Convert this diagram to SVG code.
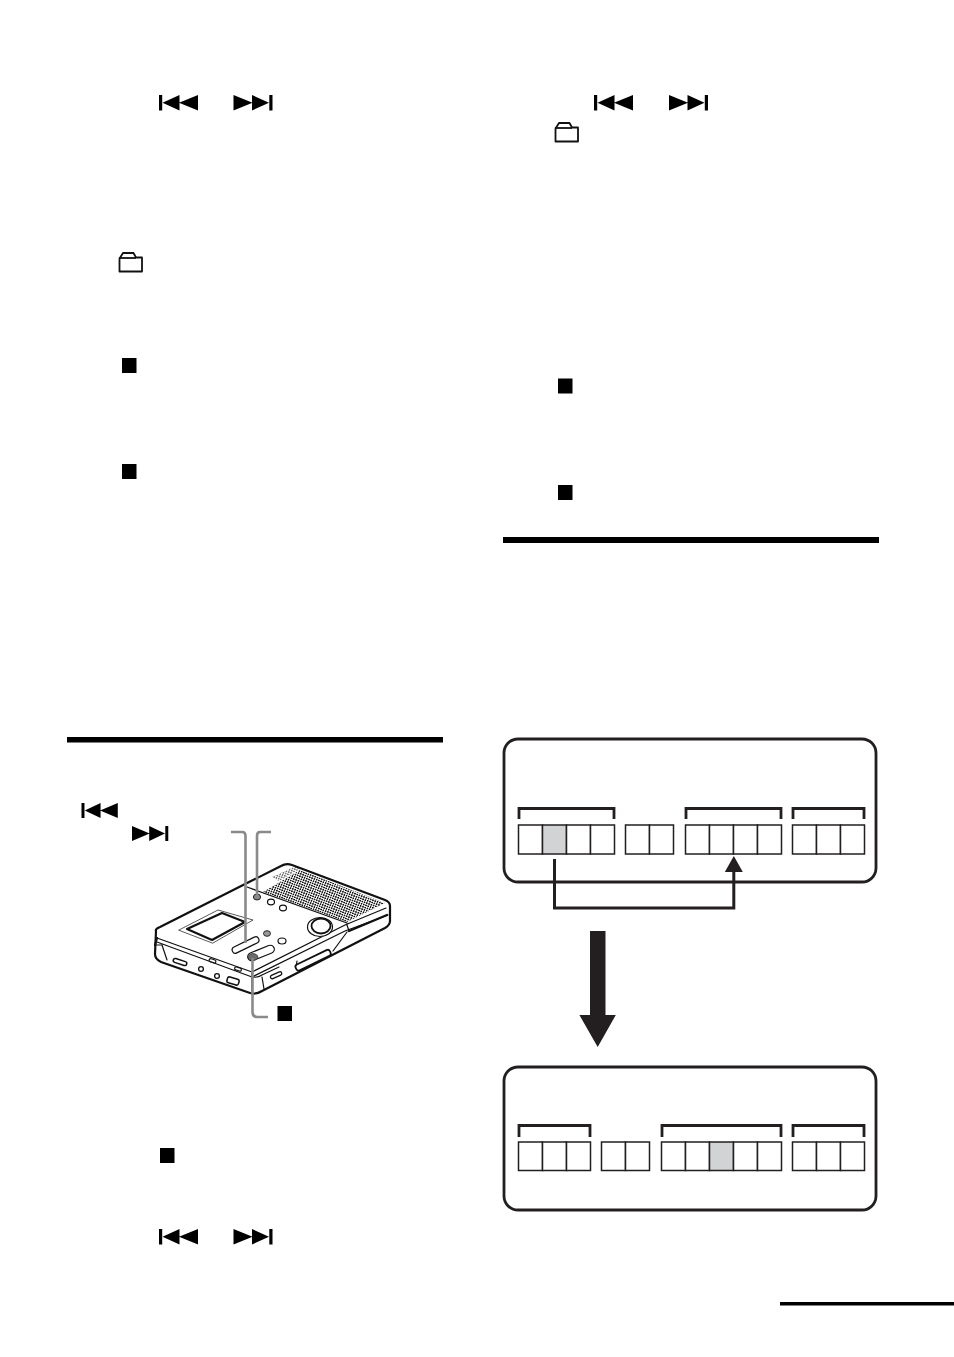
<svg xmlns="http://www.w3.org/2000/svg" width="954" height="1357" viewBox="0 0 954 1357">
<style>
.k{fill:#000}
.box{fill:#fff;stroke:#231f20;stroke-width:2.8}
.cell{fill:#fff;stroke:#231f20;stroke-width:1.5}
.gray{fill:#d1d3d4;stroke:#231f20;stroke-width:1.5}
.br{fill:none;stroke:#231f20;stroke-width:2.800}
.lead{fill:none;stroke:#8a8a8a;stroke-width:2.6}
.fold{fill:#fff;stroke:#111;stroke-width:1.8;stroke-linejoin:round}
.d{fill:none;stroke:#111;stroke-width:1.2;stroke-linejoin:round;stroke-linecap:round}
.dt{fill:none;stroke:#111;stroke-width:2.200;stroke-linejoin:round;stroke-linecap:round}
.dw{fill:#fff;stroke:#111;stroke-width:1.2}
</style>
<defs>
<symbol id="prev" overflow="visible"><path class="k" d="M0 0h3.200v15.500H0zM3.500 7.750 20.500 0V15.500zM20 7.750 39 0V15.500z"/></symbol>
<symbol id="next" overflow="visible"><path class="k" d="M39 0h-3.200v15.500h3.200zM35.500 7.750 18.500 0V15.500zM19 7.750 0 0V15.500z"/></symbol>
<symbol id="folder" overflow="visible"><path class="fold" d="M1 19.500V6.500Q1 5.500 2 5L4.500 1H15L17.500 5.500H23.500V19.500Z"/><path class="fold" d="M1 6H17.500" fill="none"/></symbol>
<pattern id="grille" width="2.400" height="2.400" patternUnits="userSpaceOnUse" patternTransform="rotate(20)"><rect width="1.600" height="1.600" fill="#111"/></pattern>
</defs>
<rect width="954" height="1357" fill="#fff"/>

<g id="rules">
<rect class="k" x="67" y="737" width="376" height="5.500"/>
<rect class="k" x="503" y="537" width="376" height="6"/>
<rect class="k" x="780" y="1302" width="174" height="3.500"/>
</g>

<g id="icons">
<use href="#prev" x="159" y="95"/><use href="#next" x="233.500" y="95"/>
<use href="#prev" x="594" y="95"/><use href="#next" x="669" y="95"/>
<use href="#folder" x="554.500" y="122"/><use href="#folder" x="118.500" y="252"/>
<rect class="k" x="122" y="358" width="14.500" height="15"/>
<rect class="k" x="122" y="464" width="14.500" height="15"/>
<rect class="k" x="558" y="378.500" width="14.500" height="15"/>
<rect class="k" x="558" y="485" width="14.500" height="15"/>
<rect class="k" x="160" y="1148" width="14.500" height="15"/>
<use href="#prev" x="159" y="1229"/><use href="#next" x="233.500" y="1229"/>
<use href="#prev" transform="translate(81.500 803) scale(.93 .97)"/>
<use href="#next" transform="translate(132 826) scale(.93 .97)"/>
<rect class="k" x="277.500" y="1006" width="14.500" height="15"/>
</g>

<g id="device">
<path class="dt" style="fill:#fff" d="M156 931Q155 929 160 927L281 866Q286 863 292 865L385 900Q390 902 390 906V921Q390 925 385 928L262 991Q256 995 250 993L161 962Q155 959 155 954Z"/>
<path class="d" d="M157 938 252 972M157 942 252 977M155 945H162L167 960M252 972 345 925 386 908M252 977 345 931 388 915M252 972V992M252 977Q258 978 262 975L279 967M262 977 264 989M297 961 296 968M347 925 349 931M333 951 347 932M247 887 347 923"/>
<path class="dt" d="M349 931 387 915M155 945 157 938"/>
<path d="M263 892 300 870 385 903 347 922Z" fill="url(#grille)"/>
<path d="M272 877 296 866 300 869 279 881Z" fill="url(#grille)" opacity=".6"/>
<path class="d" style="stroke-width:.7" d="M179 930 218 910 253 920 213 943Z"/>
<path class="dt" d="M187 929 222 913 245 922 212 940Z"/>
<rect class="dw" x="231" y="942" width="29" height="6.500" rx="3.200" transform="rotate(-26 245 945)"/>
<rect class="dw" x="247" y="949" width="28" height="8" rx="4" transform="rotate(-22 261 953)"/>
<ellipse cx="253" cy="957" rx="4.800" ry="3.400" fill="#6d6d6d" stroke="#333" stroke-width=".8"/>
<ellipse cx="257" cy="897" rx="3.600" ry="3" fill="#8a8a8a" stroke="#222"/>
<ellipse class="dw" cx="271" cy="902" rx="3.500" ry="2.800"/>
<ellipse class="dw" cx="283" cy="908" rx="3.500" ry="2.800"/>
<ellipse cx="267" cy="933.500" rx="3.500" ry="2.800" fill="#999" stroke="#222"/>
<ellipse class="dw" cx="282" cy="941" rx="4" ry="3"/>
<ellipse class="dw" cx="320" cy="927" rx="12.500" ry="9.500"/>
<ellipse class="dw" cx="321" cy="926" rx="9.500" ry="7.500" style="stroke-width:1.800"/>
<rect class="dw" x="173" y="960" width="14" height="4" rx="2" transform="rotate(18 180 962)" style="stroke-width:1.500"/>
<rect class="dw" x="209" y="959.500" width="7" height="3" rx="1.500" transform="rotate(18 213 961)"/>
<rect class="dw" x="234.500" y="967.500" width="7" height="3" rx="1.500" transform="rotate(18 238 969)"/>
<circle class="dw" cx="201" cy="969" r="2.400" style="stroke-width:1.300"/>
<circle class="dw" cx="217" cy="976" r="2.400" style="stroke-width:1.300"/>
<rect class="dw" x="227" y="978" width="12" height="6" rx="2" transform="rotate(16 233 981)" style="stroke-width:1.500"/>
<rect class="dw" x="270" y="973.500" width="12" height="3.500" rx="1.700" transform="rotate(-24 276 975)" style="stroke-width:1.300"/>
<rect class="dw" x="294" y="957" width="38" height="6.500" rx="2.500" transform="rotate(-26 313 960)" style="stroke-width:1.800"/>
</g>

<g id="leaders">
<path class="lead" d="M231 832H242Q245.500 832 245.500 836V943"/>
<path class="lead" d="M271 832H260Q257 832 257 836V895"/>
<path class="lead" d="M252.500 958V1012Q252.500 1017 257 1017H268"/>
</g>

<g id="panel-before">
<rect class="box" x="504" y="739" width="372" height="143" rx="14"/>
<path class="br" d="M519 819V808.500H614V819M686 819V808.500H781V819M793 819V808.500H864V819"/>
<g id="cells-before">
<rect class="cell" x="518.500" y="825" width="24" height="29"/>
<rect class="gray" x="542.500" y="825" width="24" height="29"/>
<rect class="cell" x="566.500" y="825" width="24" height="29"/>
<rect class="cell" x="590.500" y="825" width="24" height="29"/>
<rect class="cell" x="625.500" y="825" width="24" height="29"/>
<rect class="cell" x="649.500" y="825" width="24" height="29"/>
<rect class="cell" x="685.500" y="825" width="24" height="29"/>
<rect class="cell" x="709.500" y="825" width="24" height="29"/>
<rect class="cell" x="733.500" y="825" width="24" height="29"/>
<rect class="cell" x="757.500" y="825" width="24" height="29"/>
<rect class="cell" x="792.500" y="825" width="24" height="29"/>
<rect class="cell" x="816.500" y="825" width="24" height="29"/>
<rect class="cell" x="840.500" y="825" width="24" height="29"/>
</g>
</g>

<g id="connectors">
<path d="M554.500 859V908H733.800V870" fill="none" stroke="#231f20" stroke-width="3"/>
<path d="M733.800 856 742.800 872H724.800Z" fill="#231f20"/>
<path d="M590 931H605.500V1015H615.800L597.700 1047 579.400 1015H590Z" fill="#231f20"/>
</g>

<g id="panel-after">
<rect class="box" x="504" y="1067" width="372" height="143" rx="14"/>
<path class="br" d="M519 1137V1125.500H590V1137M662 1137V1125.500H781V1137M793 1137V1125.500H864V1137"/>
<g id="cells-after">
<rect class="cell" x="518.500" y="1142" width="24" height="28.500"/>
<rect class="cell" x="542.500" y="1142" width="24" height="28.500"/>
<rect class="cell" x="566.500" y="1142" width="24" height="28.500"/>
<rect class="cell" x="601.500" y="1142" width="24" height="28.500"/>
<rect class="cell" x="625.500" y="1142" width="24" height="28.500"/>
<rect class="cell" x="661.500" y="1142" width="24" height="28.500"/>
<rect class="cell" x="685.500" y="1142" width="24" height="28.500"/>
<rect class="gray" x="709.500" y="1142" width="24" height="28.500"/>
<rect class="cell" x="733.500" y="1142" width="24" height="28.500"/>
<rect class="cell" x="757.500" y="1142" width="24" height="28.500"/>
<rect class="cell" x="792.500" y="1142" width="24" height="28.500"/>
<rect class="cell" x="816.500" y="1142" width="24" height="28.500"/>
<rect class="cell" x="840.500" y="1142" width="24" height="28.500"/>
</g>
</g>
</svg>
